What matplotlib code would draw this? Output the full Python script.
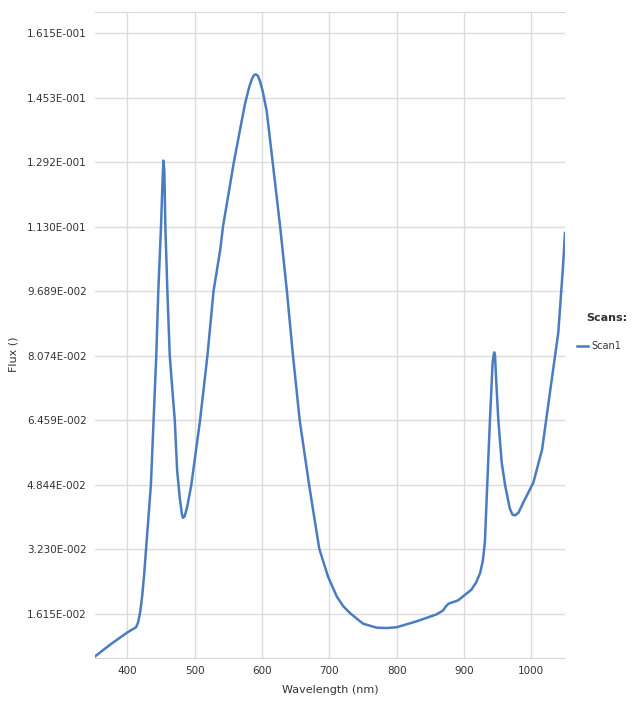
import matplotlib
matplotlib.use("Agg")
import matplotlib.pyplot as plt

wavelength = [352, 375, 400, 413, 416, 419, 422, 425, 429, 435, 439, 443,
              446, 450, 452, 453.5, 455, 456.5, 459.5, 463, 467, 470.5, 474,
              478, 481, 482.5, 485, 489, 495, 508, 519, 528, 538, 542, 550,
              558, 567, 575, 581, 585, 588, 591, 594, 597, 601, 607, 616,
              627, 637, 646, 656, 670, 685, 698, 711, 721, 731, 750, 770,
              785, 800, 830, 859, 869, 873, 877, 891, 911, 918, 924, 928,
              931, 934.5, 938.5, 942.5, 944, 945, 946, 948, 951, 956, 961,
              968, 972, 976, 981, 988, 1003, 1016, 1028, 1040, 1047, 1050]
flux = [0.0055, 0.0085, 0.0115, 0.0128, 0.0140, 0.0165, 0.0205, 0.0260,
        0.0350, 0.0484, 0.0646, 0.0808, 0.0969, 0.1130, 0.1230, 0.1296,
        0.1270, 0.1130, 0.0969, 0.0808, 0.0720, 0.0646, 0.0520, 0.0450,
        0.0412, 0.0402, 0.0405, 0.0430, 0.0484, 0.0646, 0.0808, 0.0969,
        0.1073, 0.1130, 0.1210, 0.1290, 0.1370, 0.1440, 0.1480, 0.1500,
        0.1510, 0.1512, 0.1508, 0.1495, 0.1470, 0.1420, 0.1290, 0.1130,
        0.0969, 0.0808, 0.0646, 0.0484, 0.0325, 0.0255, 0.0205, 0.0180,
        0.0163, 0.0137, 0.0127, 0.0126, 0.0128, 0.0143, 0.0160, 0.0170,
        0.0180, 0.0187, 0.0195, 0.0222, 0.0240, 0.0264, 0.0295, 0.0340,
        0.0484, 0.0646, 0.0790, 0.0810, 0.0816, 0.0810, 0.0740, 0.0646,
        0.0540, 0.0484, 0.0425, 0.0410, 0.0408, 0.0415, 0.0440, 0.0490,
        0.0573, 0.0720, 0.0865, 0.1030, 0.1115]

x_ticks = [400, 500, 600, 700, 800, 900, 1000]
y_ticks = [0.01615, 0.03230, 0.04844, 0.06459, 0.08074, 0.09689,
           0.1130, 0.1292, 0.1453, 0.1615]
y_tick_labels = ["1.615E-002", "3.230E-002", "4.844E-002", "6.459E-002",
                 "8.074E-002", "9.689E-002", "1.130E-001", "1.292E-001",
                 "1.453E-001", "1.615E-001"]

fig = plt.figure(figsize=(6.38, 7.13), dpi=100)
ax = fig.add_axes([95/638, 1 - 658/713, (565 - 95)/638, (658 - 12)/713])

ax.plot(wavelength, flux, color="#4a7cc0", linewidth=1.8, label="Scan1",
        solid_joinstyle="round")
ax.set_xlim(352, 1050)
ax.set_ylim(0.0051, 0.1668)
ax.set_xticks(x_ticks)
ax.set_xticklabels([str(t) for t in x_ticks])
ax.set_yticks(y_ticks)
ax.set_yticklabels(y_tick_labels)
ax.tick_params(length=0, labelsize=7.5, colors="#333333", pad=6)
ax.grid(True, color="#dcdcdc", linewidth=1.0)
ax.set_axisbelow(True)
for s in ax.spines.values():
    s.set_color("#d8d8d8")
ax.spines["left"].set_visible(False)
ax.spines["right"].set_visible(False)

ax.set_xlabel("Wavelength (nm)", fontsize=8, color="#333333", labelpad=6)
fig.text(14/638, 1 - 354/713, "Flux ()", rotation=90, fontsize=8,
         color="#333333", ha="center", va="center")

fig.text(586/638, 1 - 318/713, "Scans:", fontsize=8, weight="bold",
         color="#333333", ha="left", va="center")
leg = ax.legend(loc="center left", bbox_to_anchor=(575/638, 1 - 346/713),
                bbox_transform=fig.transFigure, frameon=False,
                fontsize=7, handlelength=1.1, handletextpad=0.4,
                borderaxespad=0, borderpad=0.2)
for t in leg.get_texts():
    t.set_color("#333333")

fig.savefig("out.png", dpi=100, facecolor="white")
